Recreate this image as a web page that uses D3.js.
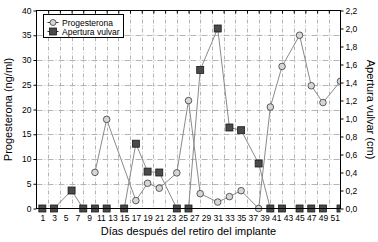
<!DOCTYPE html>
<html><head><meta charset="utf-8">
<script src="https://cdn.jsdelivr.net/npm/d3@7"></script>
<style>body{margin:0;background:#fff}svg{display:block}text{font-family:"Liberation Sans",Arial,sans-serif}</style>
</head><body><svg id="c" width="378" height="242"></svg>
<script>
const progDays = [10,12,17,19,21,24,26,28,31,33,35,38,40,42,45,47,49,52];
const progValues = [7.3,18.0,1.6,5.1,4.1,7.2,21.8,3.0,1.3,2.4,3.6,0,20.5,28.7,35.0,24.8,21.4,25.7];
const apertDays = [1,3,6,8,10,12,15,17,19,21,24,26,28,31,33,35,38,40,42,45,47,49,52];
const apertValues = [0,0,0.2,0,0,0,0,0.72,0.41,0.40,0,0,1.54,2.0,0.9,0.87,0.5,0,0,0,0,0,0];
const xTickLabels = d3.range(1,52,2);
const leftTicks = [0,5,10,15,20,25,30,35,40];
const rightTicks = [0,0.2,0.4,0.6,0.8,1.0,1.2,1.4,1.6,1.8,2.0,2.2];

const svg = d3.select('#c');
const L=36.5, R=340.5, T=10.5, B=208.5;
const x = d3.scaleLinear().domain([0,52]).range([L,R]);
const yL = d3.scaleLinear().domain([0,40]).range([B,T]);
const yR = d3.scaleLinear().domain([0,2.2]).range([B,T]);
const fmt = d3.format('.1f');
const comma = v => fmt(v).replace('.',',');

// grid
const g = svg.append('g');
g.selectAll('.vg').data(d3.range(2,52,2)).join('line')
  .attr('x1',d=>Math.round(x(d))+0.5).attr('x2',d=>Math.round(x(d))+0.5).attr('y1',T).attr('y2',B)
  .attr('stroke','#b4b4b4').attr('stroke-width',1).attr('stroke-dasharray','4,2,1,2');
g.selectAll('.hg').data([5,10,15,20,25,30,35]).join('line')
  .attr('y1',d=>Math.round(yL(d))+0.5).attr('y2',d=>Math.round(yL(d))+0.5).attr('x1',L).attr('x2',R)
  .attr('stroke','#b4b4b4').attr('stroke-width',1).attr('stroke-dasharray','6,2,1,2');

// axes
const axL = d3.axisLeft(yL).tickValues(leftTicks).tickSize(3).tickPadding(2);
svg.append('g').attr('transform',`translate(${L},0)`).call(axL)
  .call(a=>{a.select('.domain').remove();a.selectAll('text').attr('font-size',8.5).attr('fill','#000');});
const axR = d3.axisRight(yR).tickValues(rightTicks).tickSize(3).tickPadding(2).tickFormat(comma);
svg.append('g').attr('transform',`translate(${R},0)`).call(axR)
  .call(a=>{a.select('.domain').remove();a.selectAll('text').attr('font-size',8.5).attr('fill','#000');});
const axB = d3.axisBottom(x).tickValues(xTickLabels).tickSize(0).tickPadding(6);
svg.append('g').attr('transform',`translate(0,${B})`).call(axB)
  .call(a=>{a.select('.domain').remove();a.selectAll('text').attr('font-size',8.5).attr('fill','#000');});
const axT = d3.axisTop(x).tickValues(d3.range(2,52,2)).tickSize(-3).tickFormat('');
svg.append('g').attr('transform',`translate(0,${T})`).call(axT).call(a=>a.select('.domain').remove());

// series
svg.append('clipPath').attr('id','cp').append('rect').attr('x',L-6).attr('y',T-6).attr('width',R-L+6).attr('height',B-T+12);
const ap = apertDays.map((d,i)=>[d,apertValues[i]]);
const pr = progDays.map((d,i)=>[d,progValues[i]]);
const s = svg.append('g').attr('clip-path','url(#cp)');
s.append('path').datum(ap).attr('d',d3.line().x(d=>x(d[0])).y(d=>yR(d[1])))
  .attr('fill','none').attr('stroke','#8a8a8a').attr('stroke-width',1);
s.append('path').datum(pr).attr('d',d3.line().x(d=>x(d[0])).y(d=>yL(d[1])))
  .attr('fill','none').attr('stroke','#8a8a8a').attr('stroke-width',1);
s.selectAll('.sq').data(ap).join('rect')
  .attr('x',d=>x(d[0])-3.5).attr('y',d=>yR(d[1])-3.5).attr('width',7).attr('height',7)
  .attr('fill','#4a4a4a').attr('stroke','#1a1a1a').attr('stroke-width',0.8);
s.selectAll('.ci').data(pr).join('circle')
  .attr('cx',d=>x(d[0])).attr('cy',d=>yL(d[1])).attr('r',3.3)
  .attr('fill','#d6d6d6').attr('stroke','#3a3a3a').attr('stroke-width',0.8);

// frame
svg.append('rect').attr('x',L).attr('y',T).attr('width',R-L).attr('height',B-T)
  .attr('fill','none').attr('stroke','#000').attr('stroke-width',1);

// legend
const lg = svg.append('g');
lg.append('rect').attr('x',43.5).attr('y',14.5).attr('width',80).attr('height',23)
  .attr('fill','#fff').attr('stroke','#000').attr('stroke-width',1);
const items = [{n:'Progesterona',t:'c'},{n:'Apertura vulvar',t:'s'}];
items.forEach((it,i)=>{
  const yy = 22.5 + i*9;
  lg.append('line').attr('x1',47.5).attr('x2',58.5).attr('y1',yy).attr('y2',yy).attr('stroke','#333');
  if(it.t==='c') lg.append('circle').attr('cx',53).attr('cy',yy).attr('r',3).attr('fill','#d6d6d6').attr('stroke','#3a3a3a').attr('stroke-width',0.8);
  else lg.append('rect').attr('x',49.5).attr('y',yy-3.5).attr('width',7).attr('height',7).attr('fill','#4a4a4a').attr('stroke','#1a1a1a').attr('stroke-width',0.8);
  lg.append('text').attr('x',62).attr('y',yy+3).attr('font-size',8.5).text(it.n);
});

// titles
svg.append('text').attr('transform',`translate(12,${(T+B)/2}) rotate(-90)`).attr('text-anchor','middle')
  .attr('font-size',11).text('Progesterona (ng/ml)');
svg.append('text').attr('transform',`translate(367,${(T+B)/2}) rotate(90)`).attr('text-anchor','middle')
  .attr('font-size',11).text('Apertura vulvar (cm)');
svg.append('text').attr('x',(L+R)/2).attr('y',235).attr('text-anchor','middle')
  .attr('font-size',11).text('Días después del retiro del implante');
</script></body></html>
